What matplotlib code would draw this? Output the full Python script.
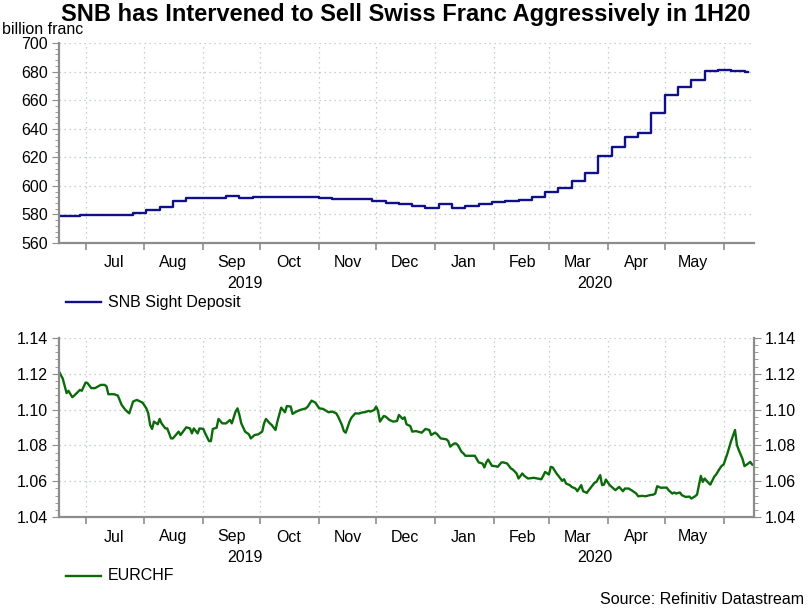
import numpy as np
import pandas as pd
import matplotlib
matplotlib.use('Agg')
import matplotlib.pyplot as plt
import matplotlib.dates as mdates
import matplotlib.transforms as mtransforms
from matplotlib.ticker import MultipleLocator, NullFormatter

plt.rcParams['font.family'] = ['Liberation Sans', 'DejaVu Sans']

# SNB sight deposits, weekly (Fridays from 2019-06-14), billion franc
snb_start = '2019-06-14'
snb_val = [578.7, 578.7, 579.4, 579.4, 579.4, 579.4, 581.3, 583.0, 585.3, 589.3,
           591.8, 591.8, 591.8, 592.8, 591.8, 592.5, 592.5, 592.5, 592.5, 592.5,
           591.8, 591.1, 590.7, 590.7, 589.3, 588.1, 587.0, 586.0, 584.8, 587.6,
           584.8, 586.0, 587.2, 588.8, 589.3, 590.0, 592.3, 595.8, 598.6, 603.3,
           608.7, 621.1, 627.4, 634.5, 636.8, 650.8, 663.7, 669.1, 673.8, 680.6,
           681.3, 680.1, 679.8]
snb_end = '2020-06-14'

# EURCHF, day offsets from 2019-06-17
eur_start = '2019-06-17'
eur_day = [0, 2, 4, 5, 7, 8, 11, 12, 14, 15, 17, 19, 22, 24, 25, 26, 29, 31, 33, 35,
           37, 39, 41, 44, 46, 47, 48, 49, 50, 52, 53, 54, 56, 57, 59, 60, 63, 64, 67, 69,
           70, 71,
           73, 74, 76, 77, 79, 80, 81, 83, 84, 86, 88, 90, 91, 93, 94, 95, 96, 98, 100, 101,
           103, 105, 107, 108, 109, 111, 112, 114, 115, 117, 119, 120, 122, 123, 125, 127,
           130, 131, 133, 135, 137, 139, 142, 144,
           146, 147, 149, 150, 151, 153, 154, 156, 158, 160, 161, 163, 164, 166, 167, 168,
           169, 171, 172, 174, 176, 178, 179, 181, 182, 183, 185, 186, 188, 189, 191, 193,
           195, 196, 198, 199, 201, 204, 205, 206, 208, 209, 210, 212, 213, 214, 216, 218,
           219, 221, 223, 224, 225, 226, 228, 230, 231, 233, 234, 236, 238, 239, 241, 242,
           244, 245, 247, 250, 252, 254, 255, 256, 258, 259, 260, 262, 263, 265, 266, 267,
           269, 270, 272, 273, 275, 276, 278, 279, 281, 282, 283, 285, 286, 287, 288, 290,
           292, 293,
           295, 297, 298, 300, 302, 304, 305, 307, 309, 311, 313, 314, 315, 317, 318, 320,
           321, 323, 324, 325, 327, 328, 330, 332, 333, 335, 336, 338, 339, 340, 342, 343,
           345, 346, 348, 349, 350, 352, 354, 356, 357, 358, 360, 361, 363, 364, 365, 366]
eur_val = [1.1213, 1.1172, 1.1092, 1.1105, 1.1069, 1.1078, 1.1110, 1.1105, 1.1151, 1.1148,
           1.1120, 1.1120, 1.1138, 1.1138, 1.1130, 1.1086, 1.1086, 1.1078, 1.1026, 1.0998,
           1.0979, 1.1045, 1.1054, 1.1039, 1.1007, 1.0979, 1.0914, 1.0892, 1.0933, 1.0918,
           1.0948, 1.0923, 1.0895, 1.0895, 1.0839, 1.0839, 1.0877, 1.0858, 1.0901, 1.0895,
           1.0867, 1.0895,
           1.0867, 1.0895, 1.0892, 1.0867, 1.0824, 1.0824, 1.0892, 1.0899, 1.0948, 1.0923,
           1.0923, 1.0942, 1.0923, 1.0989, 1.1007, 1.0970, 1.0923, 1.0877, 1.0862, 1.0839,
           1.0858, 1.0862, 1.0877, 1.0923, 1.0948, 1.0923, 1.0914, 1.0886, 1.0933, 1.1011,
           1.0985, 1.1020, 1.1017, 1.0976, 1.0989, 1.0998, 1.1007, 1.1017, 1.1050, 1.1039,
           1.1007, 1.1004, 1.0985, 1.0989,
           1.0979, 1.0961, 1.0914, 1.0880, 1.0871, 1.0933, 1.0955, 1.0979, 1.0978, 1.0985,
           1.0985, 1.0993, 1.0989, 1.0998, 1.1017, 1.0993, 1.0933, 1.0964, 1.0961, 1.0942,
           1.0933, 1.0936, 1.0970, 1.0948, 1.0957, 1.0918, 1.0908, 1.0877, 1.0880, 1.0877,
           1.0871, 1.0892, 1.0886, 1.0858, 1.0871, 1.0864, 1.0839, 1.0834, 1.0824, 1.0793,
           1.0810, 1.0811, 1.0802, 1.0764, 1.0755, 1.0742, 1.0742, 1.0742,
           1.0742, 1.0705, 1.0699, 1.0677, 1.0705, 1.0721, 1.0686, 1.0684, 1.0680, 1.0705,
           1.0705, 1.0699, 1.0671, 1.0665, 1.0643, 1.0615, 1.0643, 1.0630, 1.0615, 1.0619,
           1.0615, 1.0611, 1.0630, 1.0652, 1.0637, 1.0680, 1.0677, 1.0643, 1.0630, 1.0602,
           1.0611, 1.0587, 1.0578, 1.0568, 1.0559, 1.0544, 1.0578, 1.0544, 1.0535, 1.0550,
           1.0578, 1.0591, 1.0596, 1.0634, 1.0578, 1.0581, 1.0609, 1.0578, 1.0559, 1.0550,
           1.0568, 1.0544, 1.0559, 1.0559, 1.0546, 1.0531, 1.0516, 1.0518, 1.0516, 1.0522,
           1.0525, 1.0531, 1.0572, 1.0563, 1.0564, 1.0564, 1.0550, 1.0531, 1.0537, 1.0531,
           1.0537, 1.0522, 1.0512, 1.0514, 1.0503, 1.0516, 1.0525, 1.0630, 1.0596, 1.0615,
           1.0591, 1.0581, 1.0624, 1.0637, 1.0671, 1.0686, 1.0693, 1.0755, 1.0826, 1.0886,
           1.0802, 1.0774, 1.0723, 1.0684, 1.0699, 1.0708, 1.0693, 1.0689]

x_min = pd.Timestamp('2019-06-17')
x_max = pd.Timestamp('2020-06-17')
month_labels = ['Jul', 'Aug', 'Sep', 'Oct', 'Nov', 'Dec', 'Jan', 'Feb', 'Mar', 'Apr', 'May']
year_labels = ['2019', '2020']

snb_dates = list(pd.date_range(snb_start, periods=len(snb_val), freq='7D')) + [pd.Timestamp(snb_end)]
snb_y = snb_val + [snb_val[-1]]
eur_dates = pd.Timestamp(eur_start) + pd.to_timedelta(eur_day, unit='D')

axis_col = '#8c8c8c'
grid_col = '#b4c4b4'
fs = 11.5

fig = plt.figure(figsize=(8.12, 6.10), dpi=100)
ax1 = fig.add_axes([59/812, 1-243/610, 695/812, 200/610])
ax2 = fig.add_axes([59/812, 1-517/610, 695/812, 179/610])


def style_dates(ax, y_off):
    month_starts = pd.date_range('2019-07-01', '2020-06-01', freq='MS')
    mids = pd.date_range('2019-07-01', '2020-05-01', freq='MS') + pd.Timedelta(days=15)
    ax.set_xlim(x_min, x_max)
    ax.set_xticks(month_starts)
    ax.set_xticklabels([])
    ax.set_xticks(mids, minor=True)
    ax.set_xticklabels(month_labels, minor=True)
    ax.tick_params(axis='x', which='major', length=5, width=1.2, color=axis_col)
    ax.tick_params(axis='x', which='minor', length=0, pad=9, labelsize=fs)
    ax.xaxis.grid(True, which='major', color=grid_col, linestyle=(0, (1, 3)), linewidth=0.9)
    ax.yaxis.grid(True, which='major', color=grid_col, linestyle=(0, (1, 3)), linewidth=0.9)
    trans = mtransforms.blended_transform_factory(ax.transData, ax.transAxes)
    ax.text(pd.Timestamp('2019-09-23'), y_off, year_labels[0], transform=trans,
            ha='center', va='top', fontsize=fs)
    ax.text(pd.Timestamp('2020-03-25'), y_off, year_labels[1], transform=trans,
            ha='center', va='top', fontsize=fs)
    ax.spines['top'].set_visible(False)
    for s in ['left', 'right', 'bottom']:
        ax.spines[s].set_color(axis_col)
        ax.spines[s].set_linewidth(1.6)


# top panel
ax1.plot(snb_dates, snb_y, drawstyle='steps-post', color='#10108a', lw=1.7)
ax1.set_ylim(560, 700)
ax1.yaxis.set_major_locator(MultipleLocator(20))
ax1.yaxis.set_minor_locator(MultipleLocator(4))
ax1.tick_params(axis='y', which='major', length=5, color=axis_col, labelsize=fs, pad=3)
ax1.tick_params(axis='y', which='minor', length=3, color=axis_col)
ax1.spines['right'].set_visible(False)
style_dates(ax1, -0.165)

# bottom panel
ax2.plot(eur_dates, eur_val, color='#0b6b0b', lw=1.7)
ax2.set_ylim(1.04, 1.14)
ax2.yaxis.set_major_locator(MultipleLocator(0.02))
ax2.yaxis.set_minor_locator(MultipleLocator(0.004))
ax2.yaxis.set_major_formatter(plt.FormatStrFormatter('%.2f'))
ax2.tick_params(axis='y', which='major', length=5, color=axis_col, labelsize=fs, pad=3,
                right=True, labelright=True)
ax2.tick_params(axis='y', which='minor', length=3, color=axis_col, right=True)
style_dates(ax2, -0.185)

# titles and legends
fig.text(406/812, 1-15/610, 'SNB has Intervened to Sell Swiss Franc Aggressively in 1H20',
         ha='center', va='center', fontsize=17, fontweight='bold')
fig.text(2/812, 1-30/610, 'billion franc', ha='left', va='center', fontsize=fs)

fig.add_artist(plt.Line2D([66/812, 101/812], [1-302/610, 1-302/610], color='#10108a', lw=1.7))
fig.text(108/812, 1-302/610, 'SNB Sight Deposit', ha='left', va='center', fontsize=fs)
fig.add_artist(plt.Line2D([66/812, 101/812], [1-576/610, 1-576/610], color='#0b6b0b', lw=1.7))
fig.text(108/812, 1-576/610, 'EURCHF', ha='left', va='center', fontsize=fs)

fig.text(804/812, 1-600/610, 'Source: Refinitiv Datastream', ha='right', va='center', fontsize=fs)

fig.savefig('out.png', dpi=100)
